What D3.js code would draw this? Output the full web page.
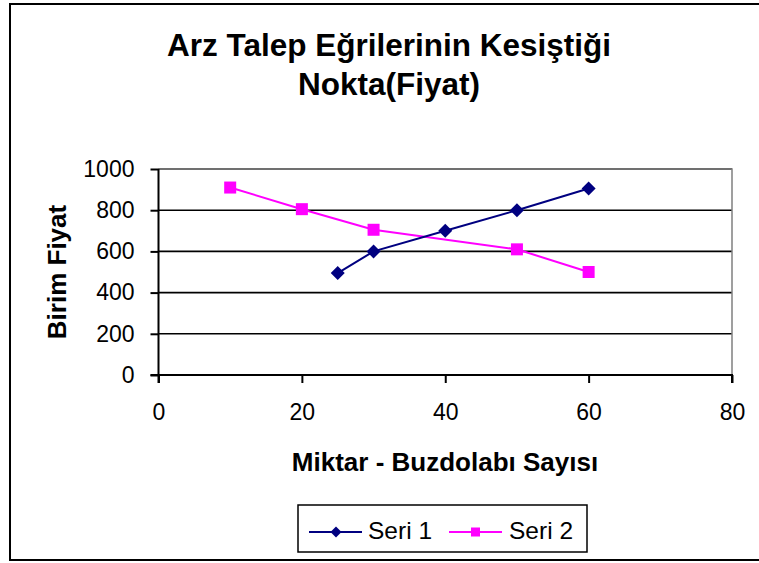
<!DOCTYPE html>
<html><head><meta charset="utf-8">
<script src="https://cdn.jsdelivr.net/npm/d3@7/dist/d3.min.js"></script>
<style>
html,body{margin:0;padding:0;background:#fff;}
text{font-family:"Liberation Sans",Arial,sans-serif;}
</style></head>
<body>
<script>
const titleLines = ["Arz Talep Eğrilerinin Kesiştiği", "Nokta(Fiyat)"];
const xTitle = "Miktar - Buzdolabı Sayısı";
const yTitle = "Birim Fiyat";
const seriesNames = ["Seri 1", "Seri 2"];
const seri1X = [25, 30, 40, 50, 60];
const seri1Y = [495, 600, 700, 800, 905];
const seri2X = [10, 20, 30, 50, 60];
const seri2Y = [910, 805, 705, 610, 500];
const xTicks = [0, 20, 40, 60, 80];
const yTicks = [0, 200, 400, 600, 800, 1000];
const colors = ["#000080", "#FF00FF"];

const W = 759, H = 563;
const svg = d3.select("body").append("svg").attr("width", W).attr("height", H);

// outer frame
svg.append("rect").attr("x", 10).attr("y", 4).attr("width", 760).attr("height", 556)
  .attr("fill", "#fff").attr("stroke", "#000").attr("stroke-width", 2);

const L = 158.5, R = 732, T = 169, B = 375;
const x = d3.scaleLinear().domain([0, 80]).range([L, R]);
const y = d3.scaleLinear().domain([0, 1000]).range([B, T]);

// title
svg.append("g").selectAll("text").data(titleLines).join("text")
  .attr("x", 389).attr("y", (d, i) => 56 + i * 39)
  .attr("text-anchor", "middle").attr("font-size", 31.5).attr("font-weight", "bold")
  .text(d => d);

// gridlines
svg.append("g").selectAll("line").data(yTicks.filter(v => v > 0)).join("line")
  .attr("x1", L).attr("x2", R).attr("y1", d => y(d)).attr("y2", d => y(d))
  .attr("stroke", "#000").attr("stroke-width", 1.6);

// plot border (gray) top & right
svg.append("path").attr("d", `M${L},${T}H${R}V${B}`).attr("fill", "none")
  .attr("stroke", "#808080").attr("stroke-width", 1.5);

// axes
const xAxis = svg.append("g").attr("transform", `translate(0,${B})`)
  .call(d3.axisBottom(x).tickValues(xTicks).tickFormat(d3.format("d")).tickSize(8).tickPadding(21));
const yAxis = svg.append("g").attr("transform", `translate(${L},0)`)
  .call(d3.axisLeft(y).tickValues(yTicks).tickFormat(d3.format("d")).tickSize(8).tickPadding(16));
[xAxis, yAxis].forEach(g => {
  g.attr("font-size", 23).attr("font-family", "Liberation Sans, Arial, sans-serif");
  g.select(".domain").attr("stroke", "#000").attr("stroke-width", 2);
  g.selectAll(".tick line").attr("stroke", "#000").attr("stroke-width", 2);
  g.selectAll(".tick text").attr("font-size", 23).attr("fill", "#000");
});
xAxis.select(".domain").attr("d", `M${L},8V0H${R}V8`);
yAxis.select(".domain").attr("d", `M-8,${B}H0V${T}`);

// axis titles
svg.append("text").attr("x", 445).attr("y", 471).attr("text-anchor", "middle")
  .attr("font-size", 26).attr("font-weight", "bold").text(xTitle);
svg.append("text").attr("transform", `translate(66,272) rotate(-90)`).attr("text-anchor", "middle")
  .attr("font-size", 26).attr("font-weight", "bold").text(yTitle);

// series
const s1 = seri1X.map((v, i) => [v, seri1Y[i]]);
const s2 = seri2X.map((v, i) => [v, seri2Y[i]]);
const line = d3.line().x(d => x(d[0])).y(d => y(d[1]));
svg.append("path").datum(s2).attr("d", line).attr("fill", "none").attr("stroke", colors[1]).attr("stroke-width", 2);
svg.append("path").datum(s1).attr("d", line).attr("fill", "none").attr("stroke", colors[0]).attr("stroke-width", 2);

const diamond = s => `M0,${-s}L${s},0L0,${s}L${-s},0Z`;
svg.append("g").selectAll("rect").data(s2).join("rect")
  .attr("x", d => x(d[0]) - 6).attr("y", d => y(d[1]) - 6).attr("width", 12).attr("height", 12)
  .attr("fill", colors[1]);
svg.append("g").selectAll("path").data(s1).join("path")
  .attr("transform", d => `translate(${x(d[0])},${y(d[1])})`).attr("d", diamond(7))
  .attr("fill", colors[0]);

// legend
const lg = svg.append("g");
lg.append("rect").attr("x", 298).attr("y", 505).attr("width", 289).attr("height", 47)
  .attr("fill", "#fff").attr("stroke", "#000").attr("stroke-width", 1.5);
const items = [{x0: 309, tx: 368}, {x0: 449, tx: 509}];
items.forEach((it, i) => {
  lg.append("line").attr("x1", it.x0).attr("x2", it.x0 + 53).attr("y1", 532).attr("y2", 532)
    .attr("stroke", colors[i]).attr("stroke-width", 2);
  if (i === 0) lg.append("path").attr("transform", `translate(${it.x0 + 27},532)`).attr("d", diamond(5.5)).attr("fill", colors[0]);
  else lg.append("rect").attr("x", it.x0 + 26.5 - 4.5).attr("y", 527.5).attr("width", 9).attr("height", 9).attr("fill", colors[1]);
  lg.append("text").attr("x", it.tx).attr("y", 539).attr("font-size", 24.5).text(seriesNames[i]);
});
</script>
</body></html>
